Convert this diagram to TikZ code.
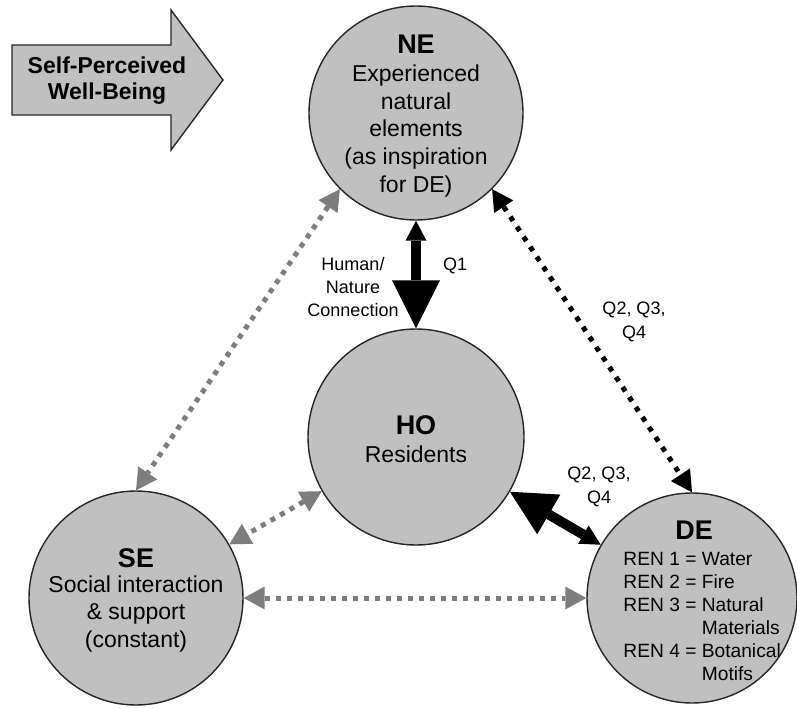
\documentclass[tikz,border=0pt]{standalone}
\usepackage{fontspec}
\setmainfont{Liberation Sans}
\usetikzlibrary{arrows.meta}

\definecolor{discgray}{RGB}{192,192,192}
\definecolor{dotgray}{RGB}{125,125,125}
\tikzset{
 disc/.style={circle, draw=black!85, line width=.7pt, fill=discgray, inner sep=0},
 title/.style={font=\fontsize{13.5}{14}\selectfont\bfseries, anchor=base},
 body/.style={font=\fontsize{11.5}{13.8}\selectfont, align=center},
 lbl/.style={font=\fontsize{9}{11.6}\selectfont, align=center},
 fat/.style={line width=5pt, black},
 blackdots/.style={line width=2.5pt, dash pattern=on 2.5pt off 3.5pt, black},
 graydots/.style={line width=2.5pt, dash pattern=on 2.5pt off 3pt, dotgray},
 bighead/.tip={Triangle[length=24pt, width=24pt, line width=0pt]},
 smallhead/.tip={Triangle[length=10pt, width=10.5pt, line width=0pt]},
 dothead/.tip={Triangle[length=10.5pt, width=11.5pt, line width=0pt]},
}

\begin{document}
\begin{tikzpicture}[x=.5pt, y=-.5pt]
\useasboundingbox (0,0) rectangle (797,707);
\fill[white] (0,0) rectangle (797,707);

% the arrow at the top left
\draw[fill=discgray, draw=black!85, line width=.7pt] (12,45) -- (171,45) -- (171,10) -- (223,80) -- (171,150) -- (171,115) -- (12,115) -- cycle;
\node[font=\fontsize{11.5}{13}\selectfont\bfseries, align=center] (spwb) at (107,81) {Self-Perceived\\Well-Being};

\node[disc, minimum size=107pt] (NE) at (416,113) {};
\node[disc, minimum size=108pt] (HO) at (416,437) {};
\node[disc, minimum size=107pt] (SE) at (136,598) {};
\node[disc, minimum size=105pt] (DE) at (692,598) {};

\node[title] (NEt) at (416,53) {NE};
\node[body] (NEb) at (416,131) {Experienced\\natural\\elements\\(as inspiration\\for DE)};
\node[title] (HOt) at (416,434) {HO};
\node[body, anchor=base] (HOb) at (416,462) {Residents};
\node[title] (SEt) at (136,567) {SE};
\node[body] (SEb) at (136,614) {Social interaction\\\& support\\(constant)};
\node[title] (DEt) at (694,539) {DE};
\node[font=\fontsize{9.6}{11.5}\selectfont, anchor=base west, inner sep=0] (DEb) at (623,565)
 {\begin{tabular}[t]{@{}l@{ }l@{}}
 REN 1 = & Water\\
 REN 2 = & Fire\\
 REN 3 = & Natural\\
 & Materials\\
 REN 4 = & Botanical\\
 & Motifs
 \end{tabular}};

\draw[fat, {smallhead}-{bighead}] (NE) -- (HO);
\draw[fat, {Triangle[length=22.5pt, width=23pt, line width=0pt]}-{smallhead}] (HO) -- (DE);
\draw[blackdots, {dothead}-{dothead}] (NE.-45) -- (DE.north);
\draw[graydots, {dothead}-{dothead}] (NE.-135) -- (SE.north);
\draw[graydots, {dothead}-{dothead}] (HO) -- (SE);
\draw[graydots, {dothead}-{dothead}] (SE) -- (DE);

\node[lbl] (hnc) at (353,287) {Human/\\Nature\\Connection};
\node[lbl, anchor=base west] (q1) at (436,270) {Q1};
\node[lbl] (qne) at (634,322) {Q2, Q3,\\Q4};
\node[lbl] (qho) at (599,487) {Q2, Q3,\\Q4};
\end{tikzpicture}
\end{document}
